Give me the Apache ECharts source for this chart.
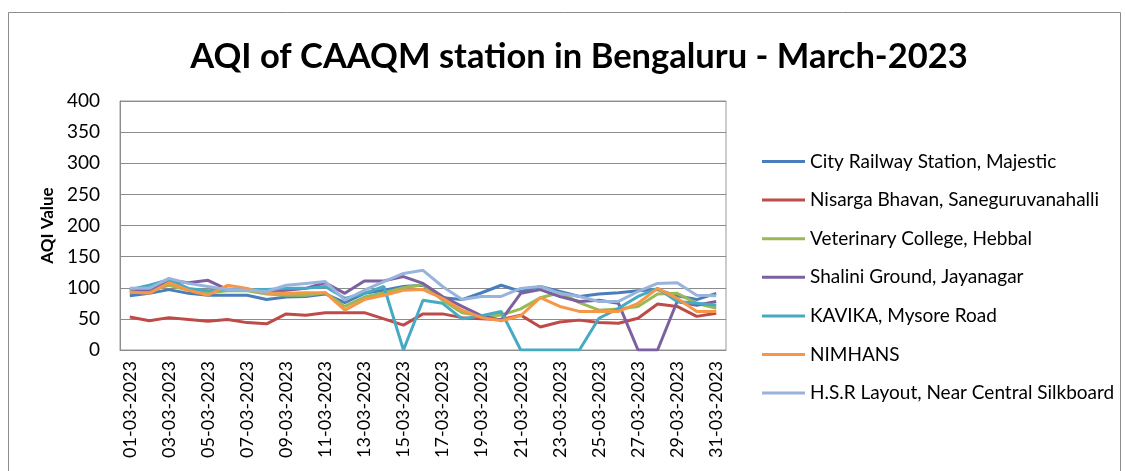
<!DOCTYPE html>
<html>
<head>
<meta charset="utf-8">
<title>AQI of CAAQM station in Bengaluru - March-2023</title>
<script src="https://cdn.jsdelivr.net/npm/echarts@6/dist/echarts.min.js"></script>
<style>
  html, body { margin: 0; padding: 0; background: #fff; }
  #chart { width: 1125px; height: 471px; }
</style>
</head>
<body>
<div id="chart"></div>
<script>
// dates for March 2023
const dates = [];
for (let d = 1; d <= 31; d++) dates.push(String(d).padStart(2, '0') + '-03-2023');

const stationNames = [
  'City Railway Station, Majestic',
  'Nisarga Bhavan, Saneguruvanahalli',
  'Veterinary College, Hebbal',
  'Shalini Ground, Jayanagar',
  'KAVIKA, Mysore Road',
  'NIMHANS',
  'H.S.R Layout, Near Central Silkboard'
];

// values
const majestic = [87, 91, 97, 91, 88, 88, 88, 81, 85, 86, 90, 76, 91, 96, 102, 104, 84, 81, 92, 104, 94, 102, 94, 86, 90, 92, 95, 97, 87, 81, 91];
const nisarga  = [53, 47, 52, 49, 46, 49, 44, 42, 58, 56, 60, 60, 60, 50, 40, 58, 58, 52, 50, 49, 56, 37, 45, 48, 44, 43, 51, 74, 70, 54, 59];
const hebbal   = [92, 95, 104, 96, 92, 95, 95, 90, 88, 88, 92, 70, 85, 92, 100, 105, 80, 60, 55, 56, 66, 84, 92, 76, 64, 66, 70, 90, 91, 75, 67];
const shalini  = [96, 97, 112, 108, 112, 97, 97, 94, 96, 99, 108, 91, 111, 111, 118, 107, 86, 70, 55, 48, 91, 97, 86, 78, 80, 75, 0, 0, 78, 72, 78];
const kavika   = [97, 104, 113, 99, 95, 98, 97, 97, 99, 99, 102, 83, 91, 102, 0, 80, 75, 50, 55, 62, 0, 0, 0, 0, 51, 67, 86, 99, 78, 75, 72];
const nimhans  = [93, 91, 108, 96, 88, 104, 99, 91, 91, 92, 92, 64, 81, 88, 96, 97, 83, 64, 52, 47, 55, 84, 70, 62, 62, 62, 75, 99, 83, 62, 62];
const hsr      = [99, 99, 115, 107, 102, 97, 96, 94, 104, 107, 110, 80, 96, 110, 123, 128, 102, 81, 86, 86, 99, 102, 91, 86, 78, 78, 94, 107, 108, 88, 87];

const seriesData = [majestic, nisarga, hebbal, shalini, kavika, nimhans, hsr];
const colors = ['#4a7ebb', '#be4b48', '#98b954', '#7d60a0', '#46aac5', '#f79646', '#98b4dc'];

const font = 'Lato, "Open Sans", sans-serif';

const chart = echarts.init(document.getElementById('chart'), null, { renderer: 'canvas' });

chart.setOption({
  animation: false,
  color: colors,
  title: {
    text: 'AQI of CAAQM station in Bengaluru - March-2023',
    left: 574,
    textAlign: 'center',
    top: 34,
    textStyle: { fontFamily: font, fontSize: 34.5, fontWeight: 'bold', color: '#000' }
  },
  graphic: [{
    type: 'rect',
    shape: { x: 8.5, y: 12.5, width: 1112, height: 470 },
    style: { fill: 'none', stroke: '#8c8c8c', lineWidth: 1 },
    silent: true
  }],
  legend: {
    orient: 'vertical',
    left: 757,
    top: 147,
    icon: 'rect',
    itemWidth: 43,
    itemHeight: 3,
    itemGap: 19.6,
    textStyle: { fontFamily: font, fontSize: 19, color: '#000' },
    data: stationNames
  },
  grid: {
    left: 120,
    top: 101,
    width: 606,
    height: 249,
    show: true,
    borderColor: '#9a9a9a',
    borderWidth: 1
  },
  xAxis: {
    type: 'category',
    data: dates,
    boundaryGap: true,
    axisLine: { lineStyle: { color: '#8c8c8c', width: 1 } },
    axisTick: { show: false },
    axisLabel: {
      interval: 1,
      rotate: 90,
      margin: 11,
      fontFamily: font,
      fontSize: 18,
      color: '#000'
    }
  },
  yAxis: {
    type: 'value',
    min: 0,
    max: 400,
    interval: 50,
    name: 'AQI Value',
    nameLocation: 'middle',
    nameGap: 62,
    nameTextStyle: { fontFamily: font, fontSize: 17, fontWeight: 'bold', color: '#000' },
    axisLine: { show: true, lineStyle: { color: '#8c8c8c' } },
    axisTick: { show: false },
    axisLabel: { fontFamily: font, fontSize: 19, color: '#000', margin: 20 },
    splitLine: { lineStyle: { color: '#8c8c8c', width: 1 } }
  },
  series: stationNames.map((name, i) => ({
    name: name,
    type: 'line',
    data: seriesData[i],
    showSymbol: false,
    symbol: 'none',
    lineStyle: { width: 3, color: colors[i] },
    z: 2 + i
  }))
});
</script>
</body>
</html>
